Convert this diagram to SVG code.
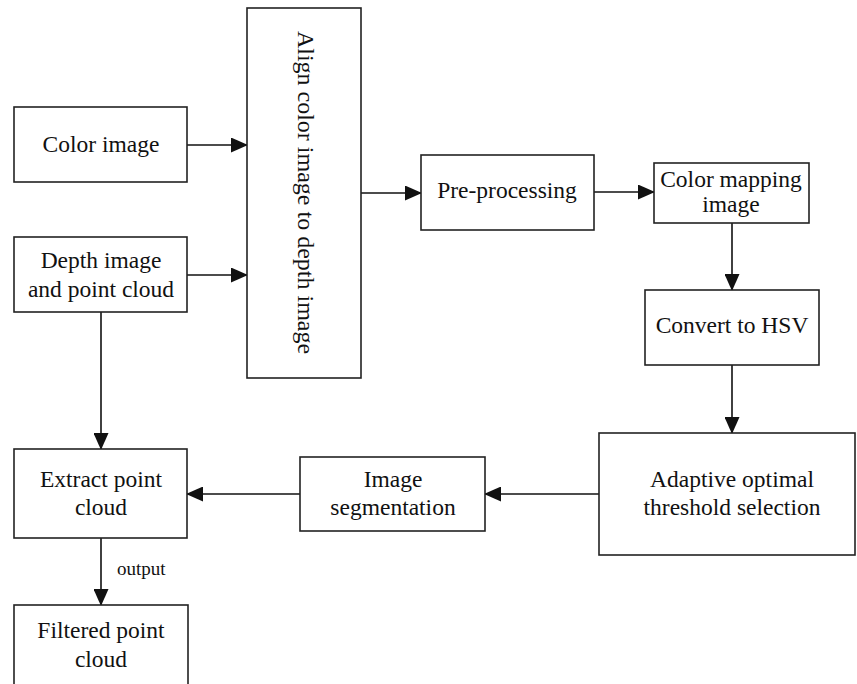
<svg xmlns="http://www.w3.org/2000/svg" width="857" height="684" viewBox="0 0 857 684">
<style>
.box{fill:#fff;stroke:#222;stroke-width:1.6}
.t{font-family:"Liberation Serif","Times New Roman",serif;font-size:23.5px;fill:#111;text-anchor:middle}
.c{stroke:#111;stroke-width:1.6;fill:none;marker-end:url(#ah)}
.lbl{font-family:"Liberation Serif","Times New Roman",serif;font-size:19px;fill:#111}
</style>
<defs>
<marker id="ah" markerWidth="17" markerHeight="15" refX="16" refY="7.5" orient="auto" markerUnits="userSpaceOnUse">
<path d="M0,0 L17,7.5 L0,15 Z" fill="#111"/>
</marker>
</defs>
<rect width="857" height="684" fill="#fff"/>
<g id="connectors">
<line class="c" x1="187" y1="145" x2="247" y2="145"/>
<line class="c" x1="187" y1="275" x2="247" y2="275"/>
<line class="c" x1="361" y1="193" x2="421" y2="193"/>
<line class="c" x1="594" y1="192" x2="654" y2="192"/>
<line class="c" x1="732" y1="223" x2="732" y2="290"/>
<line class="c" x1="732" y1="365" x2="732" y2="433"/>
<line class="c" x1="599" y1="494" x2="485" y2="494"/>
<line class="c" x1="300" y1="494" x2="187" y2="494"/>
<line class="c" x1="101" y1="312" x2="101" y2="449"/>
<line class="c" x1="101" y1="538" x2="101" y2="605"/>
<text class="lbl" x="117" y="575">output</text>
</g>
<g id="color-image">
<rect class="box" x="14" y="107" width="173" height="75"/>
<text class="t" x="101" y="152">Color image</text>
</g>
<g id="depth-image">
<rect class="box" x="14" y="237" width="173" height="75"/>
<text class="t" x="101" y="268">Depth image</text>
<text class="t" x="101" y="297">and point cloud</text>
</g>
<g id="align">
<rect class="box" x="247" y="8" width="114" height="370"/>
<text class="t" style="font-size:24px" transform="translate(298,192.5) rotate(90)" x="0" y="0">Align color image to depth image</text>
</g>
<g id="pre-processing">
<rect class="box" x="421" y="155" width="173" height="75"/>
<text class="t" x="507" y="198">Pre-processing</text>
</g>
<g id="color-mapping">
<rect class="box" x="654" y="163" width="155" height="60"/>
<text class="t" x="731" y="187">Color mapping</text>
<text class="t" x="731" y="212">image</text>
</g>
<g id="convert-hsv">
<rect class="box" x="645" y="290" width="174" height="75"/>
<text class="t" x="732" y="333">Convert to HSV</text>
</g>
<g id="adaptive">
<rect class="box" x="599" y="433" width="256" height="122"/>
<text class="t" x="732" y="487">Adaptive optimal</text>
<text class="t" x="732" y="515">threshold selection</text>
</g>
<g id="image-segmentation">
<rect class="box" x="300" y="457" width="185" height="74"/>
<text class="t" x="393" y="487">Image</text>
<text class="t" x="393" y="515">segmentation</text>
</g>
<g id="extract">
<rect class="box" x="14" y="449" width="173" height="89"/>
<text class="t" x="101" y="487">Extract point</text>
<text class="t" x="101" y="515">cloud</text>
</g>
<g id="filtered">
<rect class="box" x="14" y="605" width="174" height="100"/>
<text class="t" x="101" y="638">Filtered point</text>
<text class="t" x="101" y="667">cloud</text>
</g>
</svg>
